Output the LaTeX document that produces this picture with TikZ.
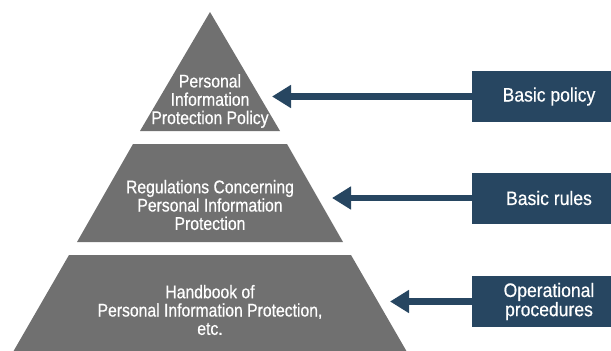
\documentclass[tikz,border=0pt]{standalone}
\usepackage{fontspec}
\setmainfont{Liberation Sans}[FakeStretch=0.86,FakeBold=0.5]
\newfontfamily\boxfont{Liberation Sans}[FakeStretch=0.9,FakeBold=0.5]
\usetikzlibrary{arrows.meta}
\definecolor{pyrgray}{RGB}{112,112,112}
\definecolor{navy}{RGB}{39,70,97}
\begin{document}
\begin{tikzpicture}[x=1pt,y=-1pt,
  layer/.style={fill=pyrgray},
  layertext/.style={text=white, align=center, font=\fontsize{18.3}{18.3}\selectfont, inner sep=0pt},
  labelbox/.style={fill=navy, minimum width=154pt, minimum height=51pt, text=white, align=center, font=\boxfont\fontsize{19.5}{17.7}\selectfont, inner sep=0pt},
  pointer/.style={draw=navy, line width=6.5pt, -{Triangle[width=22pt,length=19pt]}}]
\useasboundingbox (0,0) rectangle (611,351);
\clip (0,0) rectangle (611,351);
% pyramid layers
\fill[layer] (210,12) -- (280,131) -- (140,131) -- cycle;
\fill[layer] (133,144) -- (287,144) -- (343,242) -- (77,242) -- cycle;
\fill[layer] (69,255) -- (351,255) -- (407,352) -- (13,352) -- cycle;
% layer texts
\node[layertext] (l1) at (210,101) {Personal\\Information\\Protection Policy};
\node[layertext] (l2) at (210,205) {Regulations Concerning\\Personal Information\\Protection};
\node[layertext] (l3) at (210,310) {Handbook of\\Personal Information Protection,\\etc.};
% label boxes
\node[labelbox] (b1) at (549,96.5) {Basic policy};
\node[labelbox] (b2) at (549,198) {Basic rules};
\node[labelbox] (b3) at (549,301.5) {Operational\\procedures};
% arrow tips
\coordinate (t1) at (272,96.5);
\coordinate (t2) at (332,198);
\coordinate (t3) at (390,301.5);
\draw[pointer] (b1.west) -- (t1);
\draw[pointer] (b2.west) -- (t2);
\draw[pointer] (b3.west) -- (t3);
\end{tikzpicture}
\end{document}
